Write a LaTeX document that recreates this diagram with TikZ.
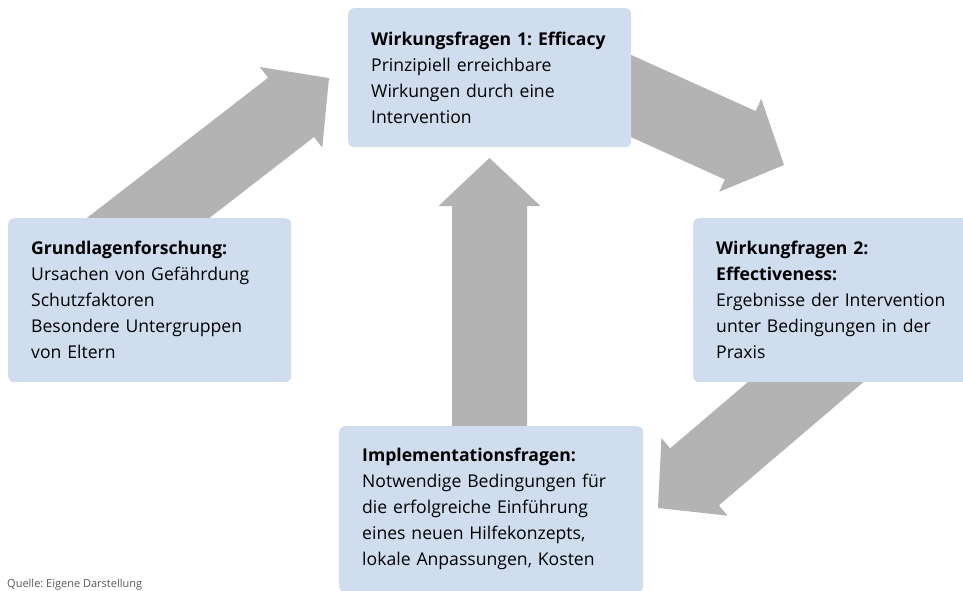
\documentclass[tikz,border=0pt]{standalone}
\usepackage{fontspec}
\setmainfont{Open Sans}
\frenchspacing
\usetikzlibrary{calc}
\definecolor{boxblue}{RGB}{207,221,238}
\definecolor{arrowgray}{RGB}{179,179,179}
\tikzset{%
	box/.style={fill=boxblue, rounded corners=6pt, anchor=north west,
		inner xsep=23pt, inner ysep=0pt, text width=237pt, minimum width=283pt,
		align=left, font=\fontsize{17.6}{26}\selectfont},
	quelle/.style={anchor=base west, inner sep=0pt, text=black!65,
		font=\fontsize{11}{13}\selectfont}
}
% block arrow from tail #1 to tip #2
\newcommand{\blockarrow}[2]{%
	\coordinate (hb) at ($(#2)!48pt!(#1)$);
	\fill[arrowgray] ($(#1)!37.5pt!90:(#2)$) -- ($(hb)!37.5pt!90:(#2)$)
		-- ($(hb)!51pt!90:(#2)$) -- (#2) -- ($(hb)!51pt!-90:(#2)$)
		-- ($(hb)!37.5pt!-90:(#2)$) -- ($(#1)!37.5pt!-90:(#2)$) -- cycle;
}

\begin{document}
\begin{tikzpicture}[x=1pt, y=-1pt]
	\useasboundingbox (0,0) rectangle (963,591);
	% arrows first, the boxes cover their tails
	\coordinate (t1) at (99,256);    \coordinate (h1) at (329,78);
	\coordinate (t2) at (600,82);    \coordinate (h2) at (784,165);
	\coordinate (t3) at (862,334);   \coordinate (h3) at (658,508);
	\coordinate (t4) at (489.5,450); \coordinate (h4) at (489.5,158);
	\foreach \i in {1,...,4} {\blockarrow{t\i}{h\i}}
	% boxes
	\node[box, minimum height=139pt] (efficacy) at (348,8)
		{\textbf{Wirkungsfragen 1: Efficacy}\\Prinzipiell erreichbare\\Wirkungen durch eine\\Intervention};
	\node[box, minimum height=164pt] (grundlagen) at (8,218)
		{\textbf{Grundlagenforschung:}\\Ursachen von Gefährdung\\Schutzfaktoren\\Besondere Untergruppen\\von Eltern};
	\node[box, text width=250pt, minimum height=164pt] (effectiveness) at (693,218)
		{\textbf{Wirkungfragen 2:}\\\textbf{Effectiveness:}\\Ergebnisse der Intervention\\unter Bedingungen in der\\Praxis};
	\node[box, text width=258pt, minimum width=304pt, minimum height=166pt] (implementation) at (339,426)
		{\textbf{Implementationsfragen:}\\Notwendige Bedingungen für\\die erfolgreiche Einführung\\eines neuen Hilfekonzepts,\\lokale Anpassungen, Kosten};
	\node[quelle] (quelle) at (7,587) {Quelle: Eigene Darstellung};
\end{tikzpicture}
\end{document}
